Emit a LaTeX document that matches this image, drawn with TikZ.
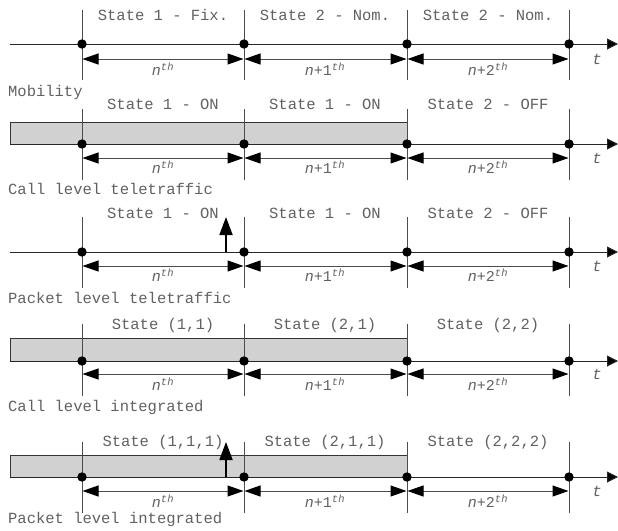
\documentclass[tikz,border=0pt]{standalone}
\usepackage{fontspec}
\setmonofont{Liberation Mono}
\usetikzlibrary{arrows.meta}

\tikzset{
  tick/.style={draw=black!70, line width=0.9pt},
  axisline/.style={draw=black!85, line width=1pt, -{Triangle[length=11pt,width=11pt,fill=black]}},
  span/.style={draw=black!70, line width=1pt,
    {Triangle[length=16pt,width=11pt,fill=black,color=black]}-{Triangle[length=16pt,width=11pt,fill=black,color=black]},
    shorten <=0.5pt, shorten >=0.5pt},
  event/.style={fill=black, draw=none},
  bar/.style={fill=black!18, draw=black!80, line width=0.9pt},
  uparrow/.style={draw=black, line width=1.8pt, -{Triangle[length=18pt,width=13pt]}},
  txt/.style={font=\ttfamily\fontsize{15.5}{18}\selectfont, text=black!62, inner sep=0pt},
  idx/.style={font=\ttfamily\fontsize{15}{18}\selectfont, text=black!62, inner sep=0pt},
}

% #1 id, #2 tick top, #3 axis, #4 span arrows, #5 index labels,
% #6 tick bottom, #7 state labels, #8 caption, #9 caption text
\newcommand\timeline[9]{%
  \foreach \i/\x in {0/82,1/244,2/407,3/569} {
    \coordinate (#1t\i) at (\x,#2);
    \coordinate (#1b\i) at (\x,#6);
    \coordinate (#1a\i) at (\x,#3);
    \coordinate (#1r\i) at (\x,#4);
  }
  \coordinate (#1s) at (10,#3);
  \coordinate (#1e) at (618,#3);
  \foreach \i in {0,1,2,3} { \draw[tick] (#1t\i) -- (#1b\i); }
  \draw[axisline] (#1s) -- (#1e);
  \foreach \i in {0,1,2,3} { \fill[event] (#1a\i) circle (4.7); }
  \draw[span] (#1r0) -- (#1r1);
  \draw[span] (#1r1) -- (#1r2);
  \draw[span] (#1r2) -- (#1r3);
  \node[idx] (#1n0) at (163,#5) {\textit{n}\textsuperscript{\textit{th}}};
  \node[idx] (#1n1) at (325,#5) {\textit{n}+1\textsuperscript{\textit{th}}};
  \node[idx] (#1n2) at (488,#5) {\textit{n}+2\textsuperscript{\textit{th}}};
  \node[txt] (#1tt) at (597,#4) {\textit{t}};
  \node[txt, anchor=west] (#1cap) at (8,#8) {#9};
}

% three state labels of one timeline
\newcommand\states[5]{%
  \node[txt] (#1s0) at (163,#2) {#3};
  \node[txt] (#1s1) at (325,#2) {#4};
  \node[txt] (#1s2) at (488,#2) {#5};
}

\begin{document}
\begin{tikzpicture}[x=1pt, y=-1pt]
  \useasboundingbox (0,0) rectangle (618,530);

  % Mobility
  \timeline{m}{10}{44}{59}{69}{80}{15}{92}{Mobility}
  \states{m}{15}{State 1 - Fix.}{State 2 - Nom.}{State 2 - Nom.}

  % Call level teletraffic
  \coordinate (cbar) at (10,122);
  \coordinate (cbarend) at (407,144);
  \draw[bar] (cbar) rectangle (cbarend);
  \timeline{c}{109}{144}{158}{167}{180}{104}{189}{Call level teletraffic}
  \states{c}{104}{State 1 - ON}{State 1 - ON}{State 2 - OFF}

  % Packet level teletraffic
  \timeline{p}{217}{252}{266}{275}{288}{213}{298}{Packet level teletraffic}
  \states{p}{213}{State 1 - ON}{State 1 - ON}{State 2 - OFF}
  \coordinate (pk) at (226,252);
  \coordinate (pktip) at (226,217);
  \draw[uparrow] (pk) -- (pktip);

  % Call level integrated
  \coordinate (ibar) at (10,338);
  \coordinate (ibarend) at (407,361);
  \draw[bar] (ibar) rectangle (ibarend);
  \timeline{i}{324}{361}{374}{384}{396}{325}{407}{Call level integrated}
  \states{i}{325}{State (1,1)}{State (2,1)}{State (2,2)}

  % Packet level integrated
  \coordinate (qbar) at (10,455);
  \coordinate (qbarend) at (407,477);
  \draw[bar] (qbar) rectangle (qbarend);
  \timeline{q}{442}{477}{491}{501}{513}{442}{519}{Packet level integrated}
  \states{q}{442}{State (1,1,1)}{State (2,1,1)}{State (2,2,2)}
  \coordinate (qk) at (226,477);
  \coordinate (qktip) at (226,442);
  \draw[uparrow] (qk) -- (qktip);
\end{tikzpicture}
\end{document}
